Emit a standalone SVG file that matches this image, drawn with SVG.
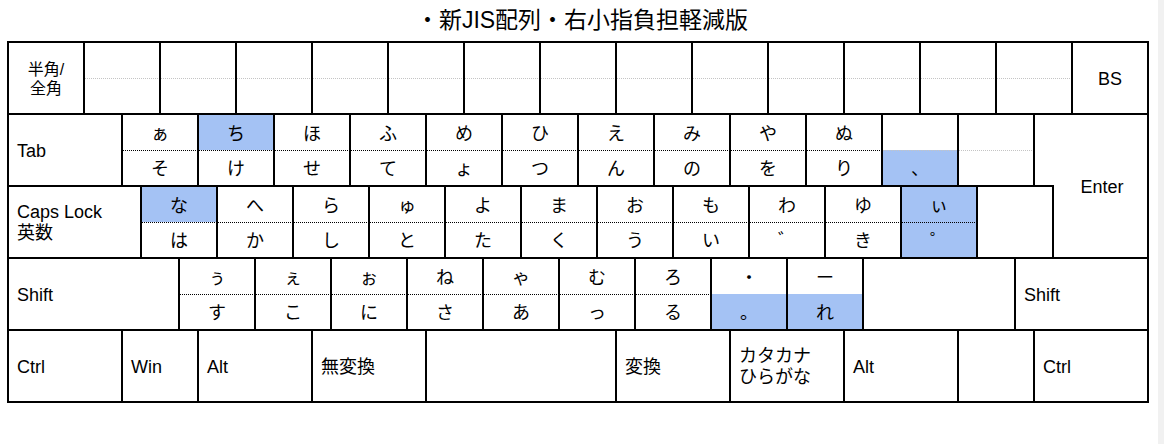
<svg xmlns="http://www.w3.org/2000/svg" width="1164" height="444" viewBox="0 0 1164 444">
<style>
.k{fill:#fff;stroke:#000;stroke-width:2}
.hl{fill:#a4c2f4}
.dd{stroke:#000;stroke-width:1;stroke-dasharray:1 1}
.dg{stroke:#c4c4c4;stroke-width:1;stroke-dasharray:1 1}
.lb{font-family:"Liberation Sans","Noto Sans CJK JP",sans-serif;font-size:18px;fill:#000}
.kn{font-family:"Noto Sans CJK JP",sans-serif;font-size:18px;fill:#000;text-anchor:middle}
.t{font-family:"Liberation Sans","Noto Sans CJK JP",sans-serif;font-size:23px;fill:#000;text-anchor:middle}
</style>
<rect x="0" y="0" width="1164" height="444" fill="#fff"/>
<rect x="1158" y="0" width="6" height="444" fill="#f1f1f1"/>
<text id="title" class="t" x="582" y="27.5">・新JIS配列・右小指負担軽減版</text>

<g id="row1">
<g id="key-hankaku"><rect class="k" x="8" y="42" width="76" height="72"/><text class="lb" x="46" y="74.5" text-anchor="middle" style="font-size:16px">半角/</text><text class="lb" x="46" y="93.5" text-anchor="middle" style="font-size:16px">全角</text></g>
<g id="key-r1-01"><rect class="k" x="84" y="42" width="76" height="72"/><line class="dg" x1="85" y1="78.5" x2="159" y2="78.5"/></g>
<g id="key-r1-02"><rect class="k" x="160" y="42" width="76" height="72"/><line class="dg" x1="161" y1="78.5" x2="235" y2="78.5"/></g>
<g id="key-r1-03"><rect class="k" x="236" y="42" width="76" height="72"/><line class="dg" x1="237" y1="78.5" x2="311" y2="78.5"/></g>
<g id="key-r1-04"><rect class="k" x="312" y="42" width="76" height="72"/><line class="dg" x1="313" y1="78.5" x2="387" y2="78.5"/></g>
<g id="key-r1-05"><rect class="k" x="388" y="42" width="76" height="72"/><line class="dg" x1="389" y1="78.5" x2="463" y2="78.5"/></g>
<g id="key-r1-06"><rect class="k" x="464" y="42" width="76" height="72"/><line class="dg" x1="465" y1="78.5" x2="539" y2="78.5"/></g>
<g id="key-r1-07"><rect class="k" x="540" y="42" width="76" height="72"/><line class="dg" x1="541" y1="78.5" x2="615" y2="78.5"/></g>
<g id="key-r1-08"><rect class="k" x="616" y="42" width="76" height="72"/><line class="dg" x1="617" y1="78.5" x2="691" y2="78.5"/></g>
<g id="key-r1-09"><rect class="k" x="692" y="42" width="76" height="72"/><line class="dg" x1="693" y1="78.5" x2="767" y2="78.5"/></g>
<g id="key-r1-10"><rect class="k" x="768" y="42" width="76" height="72"/><line class="dg" x1="769" y1="78.5" x2="843" y2="78.5"/></g>
<g id="key-r1-11"><rect class="k" x="844" y="42" width="76" height="72"/><line class="dg" x1="845" y1="78.5" x2="919" y2="78.5"/></g>
<g id="key-r1-12"><rect class="k" x="920" y="42" width="76" height="72"/><line class="dg" x1="921" y1="78.5" x2="995" y2="78.5"/></g>
<g id="key-r1-13"><rect class="k" x="996" y="42" width="76" height="72"/><line class="dg" x1="997" y1="78.5" x2="1070" y2="78.5"/></g>
<g id="key-bs"><rect class="k" x="1072" y="42" width="76" height="72"/><text class="lb" x="1110" y="84.5" text-anchor="middle">BS</text></g>
</g>

<g id="row2">
<g id="key-tab"><rect class="k" x="8" y="114" width="114" height="72"/><text class="lb" x="17" y="156.5">Tab</text></g>
<g id="key-r2-01"><rect class="k" x="122" y="114" width="76" height="72"/><line class="dd" x1="123" y1="150.5" x2="197" y2="150.5"/><text class="kn" x="160" y="139.5">ぁ</text><text class="kn" x="160" y="175">そ</text></g>
<g id="key-r2-02"><rect class="k" x="198" y="114" width="76" height="72"/><rect class="hl" x="199" y="115" width="74" height="35"/><line class="dd" x1="199" y1="150.5" x2="273" y2="150.5"/><text class="kn" x="236" y="139.5">ち</text><text class="kn" x="236" y="175">け</text></g>
<g id="key-r2-03"><rect class="k" x="274" y="114" width="76" height="72"/><line class="dd" x1="275" y1="150.5" x2="349" y2="150.5"/><text class="kn" x="312" y="139.5">ほ</text><text class="kn" x="312" y="175">せ</text></g>
<g id="key-r2-04"><rect class="k" x="350" y="114" width="76" height="72"/><line class="dd" x1="351" y1="150.5" x2="425" y2="150.5"/><text class="kn" x="388" y="139.5">ふ</text><text class="kn" x="388" y="175">て</text></g>
<g id="key-r2-05"><rect class="k" x="426" y="114" width="76" height="72"/><line class="dd" x1="427" y1="150.5" x2="501" y2="150.5"/><text class="kn" x="464" y="139.5">め</text><text class="kn" x="464" y="175">ょ</text></g>
<g id="key-r2-06"><rect class="k" x="502" y="114" width="76" height="72"/><line class="dd" x1="503" y1="150.5" x2="577" y2="150.5"/><text class="kn" x="540" y="139.5">ひ</text><text class="kn" x="540" y="175">つ</text></g>
<g id="key-r2-07"><rect class="k" x="578" y="114" width="76" height="72"/><line class="dd" x1="579" y1="150.5" x2="653" y2="150.5"/><text class="kn" x="616" y="139.5">え</text><text class="kn" x="616" y="175">ん</text></g>
<g id="key-r2-08"><rect class="k" x="654" y="114" width="76" height="72"/><line class="dd" x1="655" y1="150.5" x2="729" y2="150.5"/><text class="kn" x="692" y="139.5">み</text><text class="kn" x="692" y="175">の</text></g>
<g id="key-r2-09"><rect class="k" x="730" y="114" width="76" height="72"/><line class="dd" x1="731" y1="150.5" x2="805" y2="150.5"/><text class="kn" x="768" y="139.5">や</text><text class="kn" x="768" y="175">を</text></g>
<g id="key-r2-10"><rect class="k" x="806" y="114" width="76" height="72"/><line class="dd" x1="807" y1="150.5" x2="881" y2="150.5"/><text class="kn" x="844" y="139.5">ぬ</text><text class="kn" x="844" y="175">り</text></g>
<g id="key-r2-11"><rect class="k" x="882" y="114" width="76" height="72"/><rect class="hl" x="883" y="150" width="74" height="35"/><line class="dg" x1="883" y1="150.5" x2="957" y2="150.5"/><text class="kn" x="920" y="175">、</text></g>
<g id="key-r2-12"><rect class="k" x="958" y="114" width="76" height="72"/><line class="dg" x1="959" y1="150.5" x2="1032" y2="150.5"/></g>
</g>

<g id="row3">
<g id="key-caps"><rect class="k" x="8" y="186" width="133" height="72"/><text class="lb" x="17" y="217.6">Caps Lock</text><text class="lb" x="17" y="239.2">英数</text></g>
<g id="key-r3-01"><rect class="k" x="141" y="186" width="76" height="72"/><rect class="hl" x="142" y="187" width="74" height="35"/><line class="dd" x1="142" y1="222.5" x2="216" y2="222.5"/><text class="kn" x="179" y="211.5">な</text><text class="kn" x="179" y="247">は</text></g>
<g id="key-r3-02"><rect class="k" x="217" y="186" width="76" height="72"/><line class="dd" x1="218" y1="222.5" x2="292" y2="222.5"/><text class="kn" x="255" y="211.5">へ</text><text class="kn" x="255" y="247">か</text></g>
<g id="key-r3-03"><rect class="k" x="293" y="186" width="76" height="72"/><line class="dd" x1="294" y1="222.5" x2="368" y2="222.5"/><text class="kn" x="331" y="211.5">ら</text><text class="kn" x="331" y="247">し</text></g>
<g id="key-r3-04"><rect class="k" x="369" y="186" width="76" height="72"/><line class="dd" x1="370" y1="222.5" x2="444" y2="222.5"/><text class="kn" x="407" y="211.5">ゅ</text><text class="kn" x="407" y="247">と</text></g>
<g id="key-r3-05"><rect class="k" x="445" y="186" width="76" height="72"/><line class="dd" x1="446" y1="222.5" x2="520" y2="222.5"/><text class="kn" x="483" y="211.5">よ</text><text class="kn" x="483" y="247">た</text></g>
<g id="key-r3-06"><rect class="k" x="521" y="186" width="76" height="72"/><line class="dd" x1="522" y1="222.5" x2="596" y2="222.5"/><text class="kn" x="559" y="211.5">ま</text><text class="kn" x="559" y="247">く</text></g>
<g id="key-r3-07"><rect class="k" x="597" y="186" width="76" height="72"/><line class="dd" x1="598" y1="222.5" x2="672" y2="222.5"/><text class="kn" x="635" y="211.5">お</text><text class="kn" x="635" y="247">う</text></g>
<g id="key-r3-08"><rect class="k" x="673" y="186" width="76" height="72"/><line class="dd" x1="674" y1="222.5" x2="748" y2="222.5"/><text class="kn" x="711" y="211.5">も</text><text class="kn" x="711" y="247">い</text></g>
<g id="key-r3-09"><rect class="k" x="749" y="186" width="76" height="72"/><line class="dd" x1="750" y1="222.5" x2="824" y2="222.5"/><text class="kn" x="787" y="211.5">わ</text><text class="kn" x="787" y="247">゛</text></g>
<g id="key-r3-10"><rect class="k" x="825" y="186" width="76" height="72"/><line class="dd" x1="826" y1="222.5" x2="900" y2="222.5"/><text class="kn" x="863" y="211.5">ゆ</text><text class="kn" x="863" y="247">き</text></g>
<g id="key-r3-11"><rect class="k" x="901" y="186" width="76" height="72"/><rect class="hl" x="902" y="187" width="74" height="70"/><line class="dd" x1="902" y1="222.5" x2="976" y2="222.5"/><text class="kn" x="939" y="211.5">ぃ</text><text class="kn" x="939" y="247">゜</text></g>
<g id="key-r3-12"><rect class="k" x="977" y="186" width="76" height="72"/></g>
</g>

<g id="key-enter"><path class="k" d="M1034 114H1148V258H1053V186H1034Z"/><text class="lb" x="1102" y="193" text-anchor="middle">Enter</text></g>

<g id="row4">
<g id="key-lshift"><rect class="k" x="8" y="258" width="171" height="72"/><text class="lb" x="17" y="300.5">Shift</text></g>
<g id="key-r4-01"><rect class="k" x="179" y="258" width="76" height="72"/><line class="dd" x1="180" y1="294.5" x2="254" y2="294.5"/><text class="kn" x="217" y="283.5">ぅ</text><text class="kn" x="217" y="319">す</text></g>
<g id="key-r4-02"><rect class="k" x="255" y="258" width="76" height="72"/><line class="dd" x1="256" y1="294.5" x2="330" y2="294.5"/><text class="kn" x="293" y="283.5">ぇ</text><text class="kn" x="293" y="319">こ</text></g>
<g id="key-r4-03"><rect class="k" x="331" y="258" width="76" height="72"/><line class="dd" x1="332" y1="294.5" x2="406" y2="294.5"/><text class="kn" x="369" y="283.5">ぉ</text><text class="kn" x="369" y="319">に</text></g>
<g id="key-r4-04"><rect class="k" x="407" y="258" width="76" height="72"/><line class="dd" x1="408" y1="294.5" x2="482" y2="294.5"/><text class="kn" x="445" y="283.5">ね</text><text class="kn" x="445" y="319">さ</text></g>
<g id="key-r4-05"><rect class="k" x="483" y="258" width="76" height="72"/><line class="dd" x1="484" y1="294.5" x2="558" y2="294.5"/><text class="kn" x="521" y="283.5">ゃ</text><text class="kn" x="521" y="319">あ</text></g>
<g id="key-r4-06"><rect class="k" x="559" y="258" width="76" height="72"/><line class="dd" x1="560" y1="294.5" x2="634" y2="294.5"/><text class="kn" x="597" y="283.5">む</text><text class="kn" x="597" y="319">っ</text></g>
<g id="key-r4-07"><rect class="k" x="635" y="258" width="76" height="72"/><line class="dd" x1="636" y1="294.5" x2="710" y2="294.5"/><text class="kn" x="673" y="283.5">ろ</text><text class="kn" x="673" y="319">る</text></g>
<g id="key-r4-08"><rect class="k" x="711" y="258" width="76" height="72"/><rect class="hl" x="712" y="294" width="74" height="35"/><text class="kn" x="749" y="283.5">・</text><text class="kn" x="749" y="319">。</text></g>
<g id="key-r4-09"><rect class="k" x="787" y="258" width="76" height="72"/><rect class="hl" x="788" y="294" width="74" height="35"/><text class="kn" x="825" y="283.5">ー</text><text class="kn" x="825" y="319">れ</text></g>
<g id="key-r4-10"><rect class="k" x="863" y="258" width="152" height="72"/></g>
<g id="key-rshift"><rect class="k" x="1015" y="258" width="133" height="72"/><text class="lb" x="1024" y="300.5">Shift</text></g>
</g>

<g id="row5">
<g id="key-lctrl"><rect class="k" x="8" y="330" width="114" height="72"/><text class="lb" x="17" y="372.5">Ctrl</text></g>
<g id="key-win"><rect class="k" x="122" y="330" width="76" height="72"/><text class="lb" x="131" y="372.5">Win</text></g>
<g id="key-lalt"><rect class="k" x="198" y="330" width="114" height="72"/><text class="lb" x="207" y="372.5">Alt</text></g>
<g id="key-muhenkan"><rect class="k" x="312" y="330" width="114" height="72"/><text class="lb" x="321" y="372.5">無変換</text></g>
<g id="key-space"><rect class="k" x="426" y="330" width="190" height="72"/></g>
<g id="key-henkan"><rect class="k" x="616" y="330" width="114" height="72"/><text class="lb" x="625" y="372.5">変換</text></g>
<g id="key-kana"><rect class="k" x="730" y="330" width="114" height="72"/><text class="lb" x="739" y="361.5">カタカナ</text><text class="lb" x="739" y="383">ひらがな</text></g>
<g id="key-ralt"><rect class="k" x="844" y="330" width="114" height="72"/><text class="lb" x="853" y="372.5">Alt</text></g>
<g id="key-r5-blank"><rect class="k" x="958" y="330" width="76" height="72"/></g>
<g id="key-rctrl"><rect class="k" x="1034" y="330" width="114" height="72"/><text class="lb" x="1043" y="372.5">Ctrl</text></g>
</g>
</svg>
